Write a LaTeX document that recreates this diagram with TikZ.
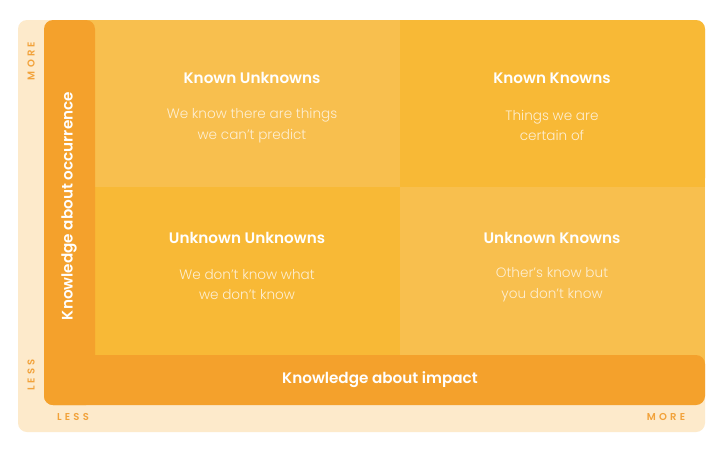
\documentclass[tikz,border=0pt]{standalone}
\usepackage{fontspec}
\setmainfont{Poppins}
\newfontfamily\axisfont[LetterSpace=32]{Poppins SemiBold}
\newfontfamily\titlefont{Poppins SemiBold}
\newfontfamily\bodyfont{Poppins Light}
\definecolor{cream}{HTML}{FDEACB}
\definecolor{orangebar}{HTML}{F4A12C}
\definecolor{qlight}{HTML}{F8BF4E}
\definecolor{qdark}{HTML}{F8B936}
\definecolor{subtext}{HTML}{FDEFD4}
\definecolor{axistext}{HTML}{F2A23A}
\tikzset{
  ttl/.style={text=white, font=\titlefont\fontsize{15.2}{18}\selectfont, align=center},
  sub/.style={text=subtext, font=\bodyfont\fontsize{13.6}{20.5}\selectfont, align=center},
  axl/.style={text=axistext, font=\axisfont\fontsize{10}{12}\selectfont},
  bar/.style={text=white, font=\titlefont\fontsize{15.2}{18}\selectfont},
}
\begin{document}
\begin{tikzpicture}[x=1pt,y=-1pt]
\useasboundingbox (0,0) rectangle (720,450);
\fill[white] (0,0) rectangle (720,450);
% cream background
\fill[cream, rounded corners=9pt] (18,20) rectangle (705,432);
% quadrants
\fill[qlight] (80,20) rectangle (400,187);
\fill[qdark, rounded corners=9pt] (400,20) rectangle (705,187);
\fill[qdark] (400,20) rectangle (420,187);
\fill[qdark] (400,170) rectangle (705,187);
\fill[qdark] (80,187) rectangle (400,370);
\fill[qlight] (400,187) rectangle (705,370);
% orange L bars
\fill[orangebar, rounded corners=9pt] (44,20) rectangle (95,405);
\fill[orangebar, rounded corners=9pt] (44,355) rectangle (705,405);
\fill[orangebar] (44,355) rectangle (95,380);
\fill[orangebar] (70,355) rectangle (100,405);
% quadrant texts
\node[ttl] (ku) at (252,78) {Known Unknowns};
\node[sub] (kus) at (252,125.5) {We know there are things\\we can’t predict};
\node[ttl] (kk) at (552,78) {Known Knowns};
\node[sub] (kks) at (552,125.5) {Things we are\\certain of};
\node[ttl] (uu) at (247,238) {Unknown Unknowns};
\node[sub] (uus) at (247,284.5) {We don’t know what\\we don’t know};
\node[ttl] (uk) at (552,238) {Unknown Knowns};
\node[sub] (uks) at (552,284.5) {Other’s know but\\you don’t know};
% bar labels
\node[bar, rotate=90] (occ) at (69,206) {Knowledge about occurrence};
\node[bar] (imp) at (380,380) {Knowledge about impact};
% axis labels
\node[axl, rotate=90] (ymore) at (31,61) {MORE};
\node[axl, rotate=90] (yless) at (31,375) {LESS};
\node[axl] (xless) at (73,417) {LESS};
\node[axl] (xmore) at (666,417) {MORE};
\end{tikzpicture}
\end{document}
